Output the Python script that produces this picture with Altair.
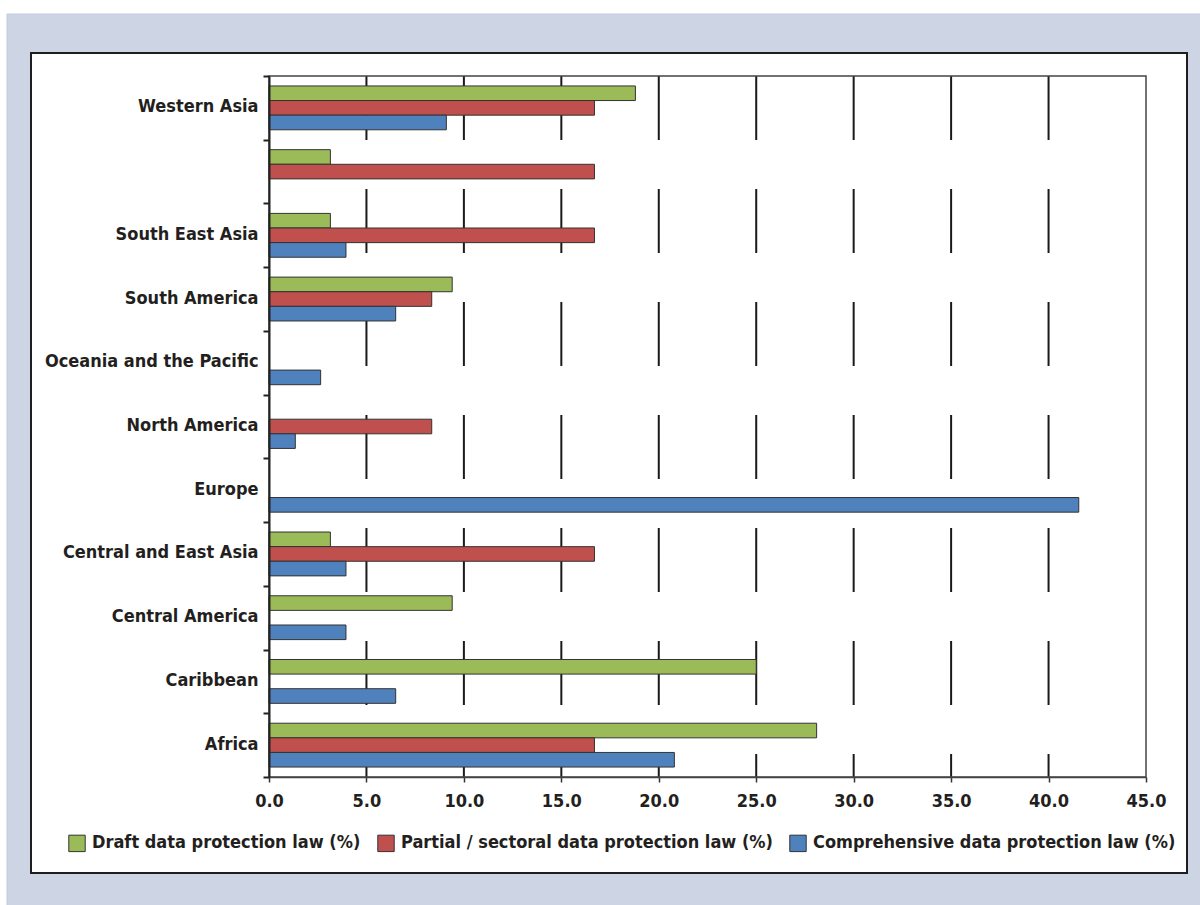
import altair as alt
import pandas as pd

# ---- data ----
regions = ["Western Asia", " ", "South East Asia", "South America",
           "Oceania and the Pacific", "North America", "Europe",
           "Central and East Asia", "Central America", "Caribbean", "Africa"]
series = ["Draft data protection law (%)",
          "Partial / sectoral data protection law (%)",
          "Comprehensive data protection law (%)"]
draft = [18.8, 3.15, 3.15, 9.4, 0, 0, 0, 3.15, 9.4, 25.0, 28.1]
partial = [16.7, 16.7, 16.7, 8.35, 0, 8.35, 0, 16.7, 0, 0, 16.7]
comprehensive = [9.1, 0, 3.95, 6.5, 2.65, 1.35, 41.55, 3.95, 3.95, 6.5, 20.8]
colors = ["#9bbb59", "#c0504d", "#4f81bd"]
x_ticks = [0, 5, 10, 15, 20, 25, 30, 35, 40, 45]

FONT = "DejaVu Sans Condensed, DejaVu Sans, sans-serif"
FS = 18
FW = "bold"
TXT = "#231f20"
W, H = 877, 701
LEFT, TOP = 269, 76

rows = []
for name, vals in zip(series, [draft, partial, comprehensive]):
    for r, v in zip(regions, vals):
        if v > 0:
            rows.append({"region": r, "series": name, "value": v})
df = pd.DataFrame(rows)
grid_df = pd.DataFrame({"value": x_ticks[1:-1]})
one = alt.Data(values=[{"k": 1}])

xscale = alt.Scale(domain=[0, 45], nice=False, zero=True)
x_axis = alt.Axis(values=x_ticks, format=".1f", title=None, grid=False,
                  labelFlush=False, labelFontSize=FS, labelFontWeight=FW, labelColor=TXT,
                  labelFont=FONT, labelPadding=10, tickSize=5, tickColor="#333333",
                  tickWidth=1.5, domainColor="#444444", domainWidth=1.5, zindex=1)

# outer blue-grey backdrop
backdrop = alt.Chart(one).mark_rect(fill="#cdd5e5", stroke="#c2cadb", strokeWidth=1).encode(
    x=alt.value(7 - LEFT), x2=alt.value(1200 - LEFT + 2),
    y=alt.value(14 - TOP), y2=alt.value(905 - TOP + 2))

# white framed panel
panel = alt.Chart(one).mark_rect(fill="white", stroke="#1e1e1e", strokeWidth=2).encode(
    x=alt.value(31 - LEFT), x2=alt.value(1187 - LEFT),
    y=alt.value(53 - TOP), y2=alt.value(873 - TOP))

# dashed vertical gridlines
grid = alt.Chart(grid_df).mark_rule(color="#1a1a1a", strokeWidth=2, strokeDash=[64, 49]).encode(
    x=alt.X("value:Q", scale=xscale, axis=x_axis),
    y=alt.value(0), y2=alt.value(H))

# plot frame (top and right border)
frame = alt.Chart(one).mark_rect(fill="white", fillOpacity=0, stroke="#444444", strokeWidth=1.5).encode(
    x=alt.value(0), x2=alt.value(W), y=alt.value(0), y2=alt.value(H))

bars = alt.Chart(df).mark_bar(stroke="#333333", strokeWidth=1).encode(
    x=alt.X("value:Q", scale=xscale, axis=x_axis),
    y=alt.Y("region:N", sort=regions,
            scale=alt.Scale(domain=regions, paddingInner=0, paddingOuter=0),
            axis=alt.Axis(title=None, grid=False, tickBand="extent", tickSize=6, tickWidth=2,
                          tickColor="#222222", domainColor="#222222", domainWidth=2,
                          labelFontSize=FS, labelFontWeight=FW, labelColor=TXT, labelFont=FONT,
                          labelPadding=5, labelLimit=500, labelOffset=-1, zindex=1)),
    yOffset=alt.YOffset("series:N",
                        scale=alt.Scale(domain=series, paddingInner=0, paddingOuter=0.68)),
    color=alt.Color("series:N",
                    scale=alt.Scale(domain=series, range=colors),
                    legend=alt.Legend(orient="none", legendX=68 - LEFT, legendY=834 - TOP,
                                      direction="horizontal", title=None, symbolType="square",
                                      symbolSize=270, symbolStrokeColor="#333333",
                                      symbolStrokeWidth=1, symbolOpacity=1,
                                      labelFontSize=FS, labelFontWeight=FW, labelColor=TXT,
                                      labelFont=FONT, labelOffset=6, columnPadding=14,
                                      padding=0, labelLimit=600, zindex=1)),
)

chart = alt.layer(backdrop, panel, grid, frame, bars).properties(
    width=W, height=H,
    autosize=alt.AutoSizeParams(type="none"),
    padding={"left": LEFT, "top": TOP, "right": 1200 - LEFT - W, "bottom": 905 - TOP - H},
).configure(font=FONT, background="white").configure_view(strokeWidth=0)

chart.save("out.html", embed_options={"renderer": "svg", "actions": False})
